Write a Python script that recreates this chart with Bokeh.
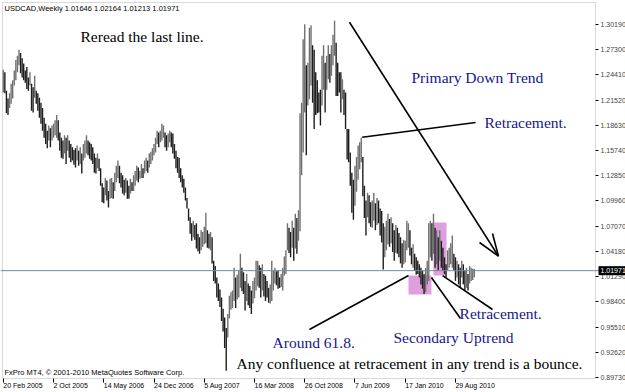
from bokeh.plotting import figure
from bokeh.models import (ColumnDataSource, Label, Span, FixedTicker, PrintfTickFormatter,
                          BoxAnnotation)
from bokeh.embed import file_html
from bokeh.resources import INLINE

# ---------------- data (weekly USDCAD) ----------------
highs = [
    1.250, 1.247, 1.226, 1.217, 1.223, 1.234, 1.238, 1.249, 1.261, 1.266,
    1.273, 1.269, 1.263, 1.257, 1.249, 1.253, 1.241, 1.247, 1.234, 1.230,
    1.243, 1.226, 1.223, 1.218, 1.212, 1.206, 1.195, 1.188, 1.180, 1.186,
    1.183, 1.186, 1.188, 1.192, 1.198, 1.192, 1.178, 1.172, 1.169, 1.175,
    1.172, 1.175, 1.169, 1.165, 1.161, 1.158, 1.160, 1.163, 1.157, 1.161,
    1.154, 1.165, 1.169, 1.175, 1.169, 1.167, 1.165, 1.161, 1.154, 1.149,
    1.154, 1.148, 1.137, 1.120, 1.115, 1.126, 1.123, 1.111, 1.125, 1.126,
    1.121, 1.132, 1.140, 1.146, 1.140, 1.132, 1.129, 1.124, 1.126, 1.123,
    1.117, 1.125, 1.121, 1.129, 1.134, 1.140, 1.138, 1.134, 1.142, 1.137,
    1.146, 1.149, 1.146, 1.154, 1.156, 1.160, 1.165, 1.172, 1.180, 1.178,
    1.180, 1.188, 1.186, 1.178, 1.175, 1.177, 1.180, 1.178, 1.177, 1.165,
    1.157, 1.150, 1.149, 1.137, 1.129, 1.125, 1.115, 1.103, 1.091, 1.081,
    1.074, 1.077, 1.072, 1.074, 1.062, 1.058, 1.066, 1.064, 1.070, 1.086,
    1.066, 1.062, 1.064, 1.058, 1.031, 1.025, 1.012, 1.005, 0.998, 0.989,
    0.976, 0.966, 0.954, 0.970, 0.991, 0.995, 0.997, 1.023, 1.012, 1.015,
    1.020, 1.039, 1.023, 1.018, 1.008, 1.016, 1.005, 1.002, 0.997, 1.008,
    1.012, 1.031, 1.031, 1.026, 1.023, 1.027, 1.016, 1.014, 1.008, 1.000,
    1.004, 1.031, 1.020, 1.023, 1.019, 1.020, 1.012, 1.016, 1.023, 1.036,
    1.043, 1.074, 1.069, 1.064, 1.077, 1.069, 1.085, 1.080, 1.089, 1.200,
    1.212, 1.285, 1.302, 1.255, 1.258, 1.298, 1.301, 1.278, 1.273, 1.247,
    1.238, 1.224, 1.227, 1.266, 1.278, 1.258, 1.266, 1.278, 1.268, 1.278,
    1.290, 1.306, 1.281, 1.258, 1.247, 1.247, 1.239, 1.227, 1.224, 1.182,
    1.182, 1.155, 1.132, 1.124, 1.140, 1.150, 1.163, 1.167, 1.172, 1.150,
    1.117, 1.100, 1.109, 1.106, 1.098, 1.100, 1.109, 1.097, 1.103, 1.100,
    1.091, 1.088, 1.074, 1.070, 1.077, 1.085, 1.079, 1.081, 1.074, 1.066,
    1.072, 1.069, 1.063, 1.058, 1.051, 1.055, 1.054, 1.077, 1.074, 1.066,
    1.046, 1.050, 1.039, 1.035, 1.031, 1.027, 1.023, 1.020, 1.016, 1.023,
    1.031, 1.074, 1.077, 1.074, 1.085, 1.069, 1.066, 1.058, 1.066, 1.054,
    1.046, 1.035, 1.027, 1.043, 1.046, 1.051, 1.060, 1.039, 1.035, 1.031,
    1.027, 1.023, 1.031, 1.027, 1.020, 1.023, 1.016, 1.025, 1.023, 1.022, 1.02164,
]
lows = [
    1.224, 1.223, 1.200, 1.198, 1.206, 1.211, 1.217, 1.232, 1.238, 1.247,
    1.255, 1.246, 1.241, 1.238, 1.235, 1.228, 1.226, 1.232, 1.203, 1.201,
    1.218, 1.211, 1.203, 1.195, 1.188, 1.180, 1.172, 1.165, 1.160, 1.169,
    1.161, 1.169, 1.172, 1.175, 1.172, 1.169, 1.157, 1.149, 1.148, 1.154,
    1.142, 1.157, 1.149, 1.144, 1.146, 1.141, 1.138, 1.146, 1.140, 1.142,
    1.131, 1.146, 1.149, 1.154, 1.152, 1.148, 1.146, 1.142, 1.132, 1.131,
    1.137, 1.134, 1.117, 1.098, 1.097, 1.106, 1.100, 1.092, 1.102, 1.103,
    1.102, 1.111, 1.121, 1.126, 1.120, 1.115, 1.108, 1.106, 1.109, 1.102,
    1.102, 1.108, 1.111, 1.111, 1.117, 1.123, 1.121, 1.125, 1.126, 1.126,
    1.131, 1.134, 1.132, 1.138, 1.142, 1.146, 1.152, 1.155, 1.165, 1.161,
    1.167, 1.169, 1.172, 1.161, 1.157, 1.161, 1.167, 1.161, 1.154, 1.148,
    1.137, 1.132, 1.126, 1.121, 1.115, 1.109, 1.100, 1.091, 1.077, 1.062,
    1.054, 1.058, 1.055, 1.045, 1.042, 1.039, 1.043, 1.047, 1.050, 1.051,
    1.046, 1.045, 1.043, 1.028, 1.008, 1.005, 0.989, 0.985, 0.978, 0.962,
    0.950, 0.931, 0.905, 0.943, 0.965, 0.975, 0.977, 0.985, 0.977, 0.987,
    0.989, 1.000, 0.996, 0.993, 0.974, 0.985, 0.980, 0.977, 0.970, 0.982,
    0.988, 0.997, 1.002, 1.000, 0.989, 0.997, 0.990, 0.985, 0.989, 0.983,
    0.982, 0.985, 0.997, 1.005, 1.003, 0.999, 1.000, 1.001, 0.997, 1.014,
    1.016, 1.043, 1.040, 1.035, 1.046, 1.031, 1.045, 1.039, 1.054, 1.065,
    1.129, 1.155, 1.201, 1.152, 1.209, 1.216, 1.232, 1.212, 1.182, 1.198,
    1.200, 1.201, 1.186, 1.209, 1.227, 1.201, 1.227, 1.239, 1.235, 1.243,
    1.255, 1.266, 1.220, 1.220, 1.224, 1.201, 1.216, 1.198, 1.182, 1.147,
    1.144, 1.117, 1.086, 1.078, 1.094, 1.110, 1.124, 1.136, 1.144, 1.105,
    1.080, 1.060, 1.081, 1.074, 1.070, 1.069, 1.077, 1.066, 1.072, 1.074,
    1.060, 1.052, 1.021, 1.035, 1.043, 1.050, 1.047, 1.051, 1.041, 1.031,
    1.040, 1.039, 1.035, 1.028, 1.023, 1.027, 1.029, 1.043, 1.046, 1.037,
    1.027, 1.023, 1.020, 1.015, 1.016, 1.012, 1.004, 0.999, 0.993, 0.995,
    1.004, 1.008, 1.035, 1.031, 1.039, 1.023, 1.027, 1.020, 1.031, 1.023,
    1.020, 1.016, 1.012, 1.020, 1.023, 1.027, 1.023, 1.020, 1.008, 1.012,
    1.004, 1.000, 1.012, 1.004, 0.997, 1.000, 0.997, 1.005, 1.008, 1.009, 1.01213,
]

date_tick_bars = [0, 32, 64, 96, 128, 160, 192, 224, 256, 288]
date_tick_labels = ["20 Feb 2005", "2 Oct 2005", "14 May 2006", "24 Dec 2006",
                    "5 Aug 2007", "16 Mar 2008", "26 Oct 2008", "7 Jun 2009",
                    "17 Jan 2010", "29 Aug 2010"]
price_ticks = [1.30190, 1.27300, 1.24410, 1.21520, 1.18630, 1.15740, 1.12850,
               1.09960, 1.07070, 1.04180, 1.01290, 0.98400, 0.95510, 0.92620, 0.89730]
last_bar = dict(open=1.01646, high=1.02164, low=1.01213, close=1.01971)

# magenta highlight zones (bar index / price)
zone_left = [258.1, 274.0]
zone_right = [272.7, 282.3]
zone_bottom = [0.9924, 1.0141]
zone_top = [1.0141, 1.0749]

# chart window (bar index / price) inside the canvas
WIN_LEFT, WIN_RIGHT = -0.5, 377.2
WIN_TOP, WIN_BOTTOM = 1.3270, 0.8961

# ---------------- figure ----------------
x = list(range(len(highs)))
mids = [(h + l) / 2 for h, l in zip(highs, lows)]
colors = ["#707070"] + ["#707070" if mids[i] >= mids[i - 1] else "#1e1e1e"
                        for i in range(1, len(mids))]
src = ColumnDataSource(dict(x=x, high=highs, low=lows, color=colors))

p = figure(width=625, height=392, x_range=(-1.774, 396.3), y_range=(0.8801, 1.3293),
           y_axis_location="right", output_backend="svg", toolbar_location=None,
           min_border_left=0, min_border_top=0, min_border_right=0, min_border_bottom=0,
           background_fill_color="white", border_fill_color="white",
           outline_line_color=None)
p.grid.visible = False

# zones
p.quad(left=zone_left, right=zone_right, bottom=zone_bottom, top=zone_top,
       fill_color="#dda0dd", line_color=None)

# bars
p.segment(x0="x", y0="low", x1="x", y1="high", color="color", line_width=1.4, source=src)

# bid line
p.add_layout(Span(location=last_bar["close"], dimension="width",
                  line_color="#778899", line_width=1))

# chart window border
p.add_layout(BoxAnnotation(left=WIN_LEFT, right=WIN_RIGHT, top=WIN_TOP, bottom=WIN_BOTTOM,
                           fill_color=None, fill_alpha=0, line_color="#808080", line_width=1))

# trend lines
p.segment(x0=[220.5, 315.4, 315.4, 228.6, 195.0, 272.7, 279.8],
          y0=[1.3044, 1.0363, 1.0363, 1.1726, 0.9523, 1.0119, 1.0141],
          x1=[315.4, 303.3, 311.6, 300.8, 258.1, 291.2, 311.6],
          y1=[1.0363, 1.0520, 1.0623, 1.1895, 1.0141, 0.9649, 0.9752],
          line_color="black", line_width=1.6)

# axes (pinned to the chart window edges)
yax = p.yaxis[0]
yax.fixed_location = WIN_RIGHT
yax.ticker = FixedTicker(ticks=price_ticks)
yax.formatter = PrintfTickFormatter(format="%.5f")
yax.major_label_text_font = "Liberation Sans"
yax.major_label_text_font_size = "7px"
yax.major_label_standoff = 2
yax.major_tick_out = 3
yax.major_tick_in = 0
yax.minor_tick_line_color = None
yax.axis_line_color = None

xax = p.xaxis[0]
xax.fixed_location = WIN_BOTTOM
xax.ticker = FixedTicker(ticks=date_tick_bars)
xax.major_label_overrides = {t: "" for t in date_tick_bars}
xax.major_tick_out = 4
xax.major_tick_in = 0
xax.minor_tick_line_color = None
xax.axis_line_color = None

for t, lab in zip(date_tick_bars, date_tick_labels):
    p.add_layout(Label(x=t, y=11, y_units="screen", text=lab, text_align="left",
                       text_baseline="top", x_offset=0,
                       text_font="Liberation Sans", text_font_size="7px",
                       text_color="black"))

# price tag of last close
p.add_layout(Label(x=598, x_units="screen", y=last_bar["close"], text="%.5f" % last_bar["close"],
                   text_baseline="middle", text_align="left", text_color="white",
                   background_fill_color="black", padding=2,
                   text_font="Liberation Sans", text_font_size="7px"))

# header / footer
header = "USDCAD,Weekly  %.5f %.5f %.5f %.5f" % (last_bar["open"], last_bar["high"],
                                                 last_bar["low"], last_bar["close"])
p.add_layout(Label(x=4, y=384, x_units="screen", y_units="screen", text=header,
                   text_baseline="middle", text_font="Liberation Sans",
                   text_font_size="7.5px", text_color="black"))
p.add_layout(Label(x=4, y=20, x_units="screen", y_units="screen",
                   text="FxPro MT4, \u00a9 2001-2010 MetaQuotes Software Corp.",
                   text_baseline="middle", text_font="Liberation Sans",
                   text_font_size="7.5px", text_color="black"))

# annotations
blue = "#16168c"
notes = [
    (49.2, 1.2880, "Reread the last line.", "black"),
    (260.0, 1.2411, "Primary Down Trend", blue),
    (306.5, 1.1895, "Retracement.", blue),
    (290.6, 0.9706, "Retracement.", blue),
    (248.5, 0.9431, "Secondary Uptrend", blue),
    (171.5, 0.9374, "Around 61.8.", blue),
    (148.5, 0.9133, "Any confluence at retracement in any trend is a bounce.", "black"),
]
for nx, ny, txt, col in notes:
    p.add_layout(Label(x=nx, y=ny, text=txt, text_color=col, text_baseline="middle",
                       text_align="left", text_font="Liberation Serif",
                       text_font_size="15.5px"))

open("out.html", "w").write(file_html(p, INLINE))
